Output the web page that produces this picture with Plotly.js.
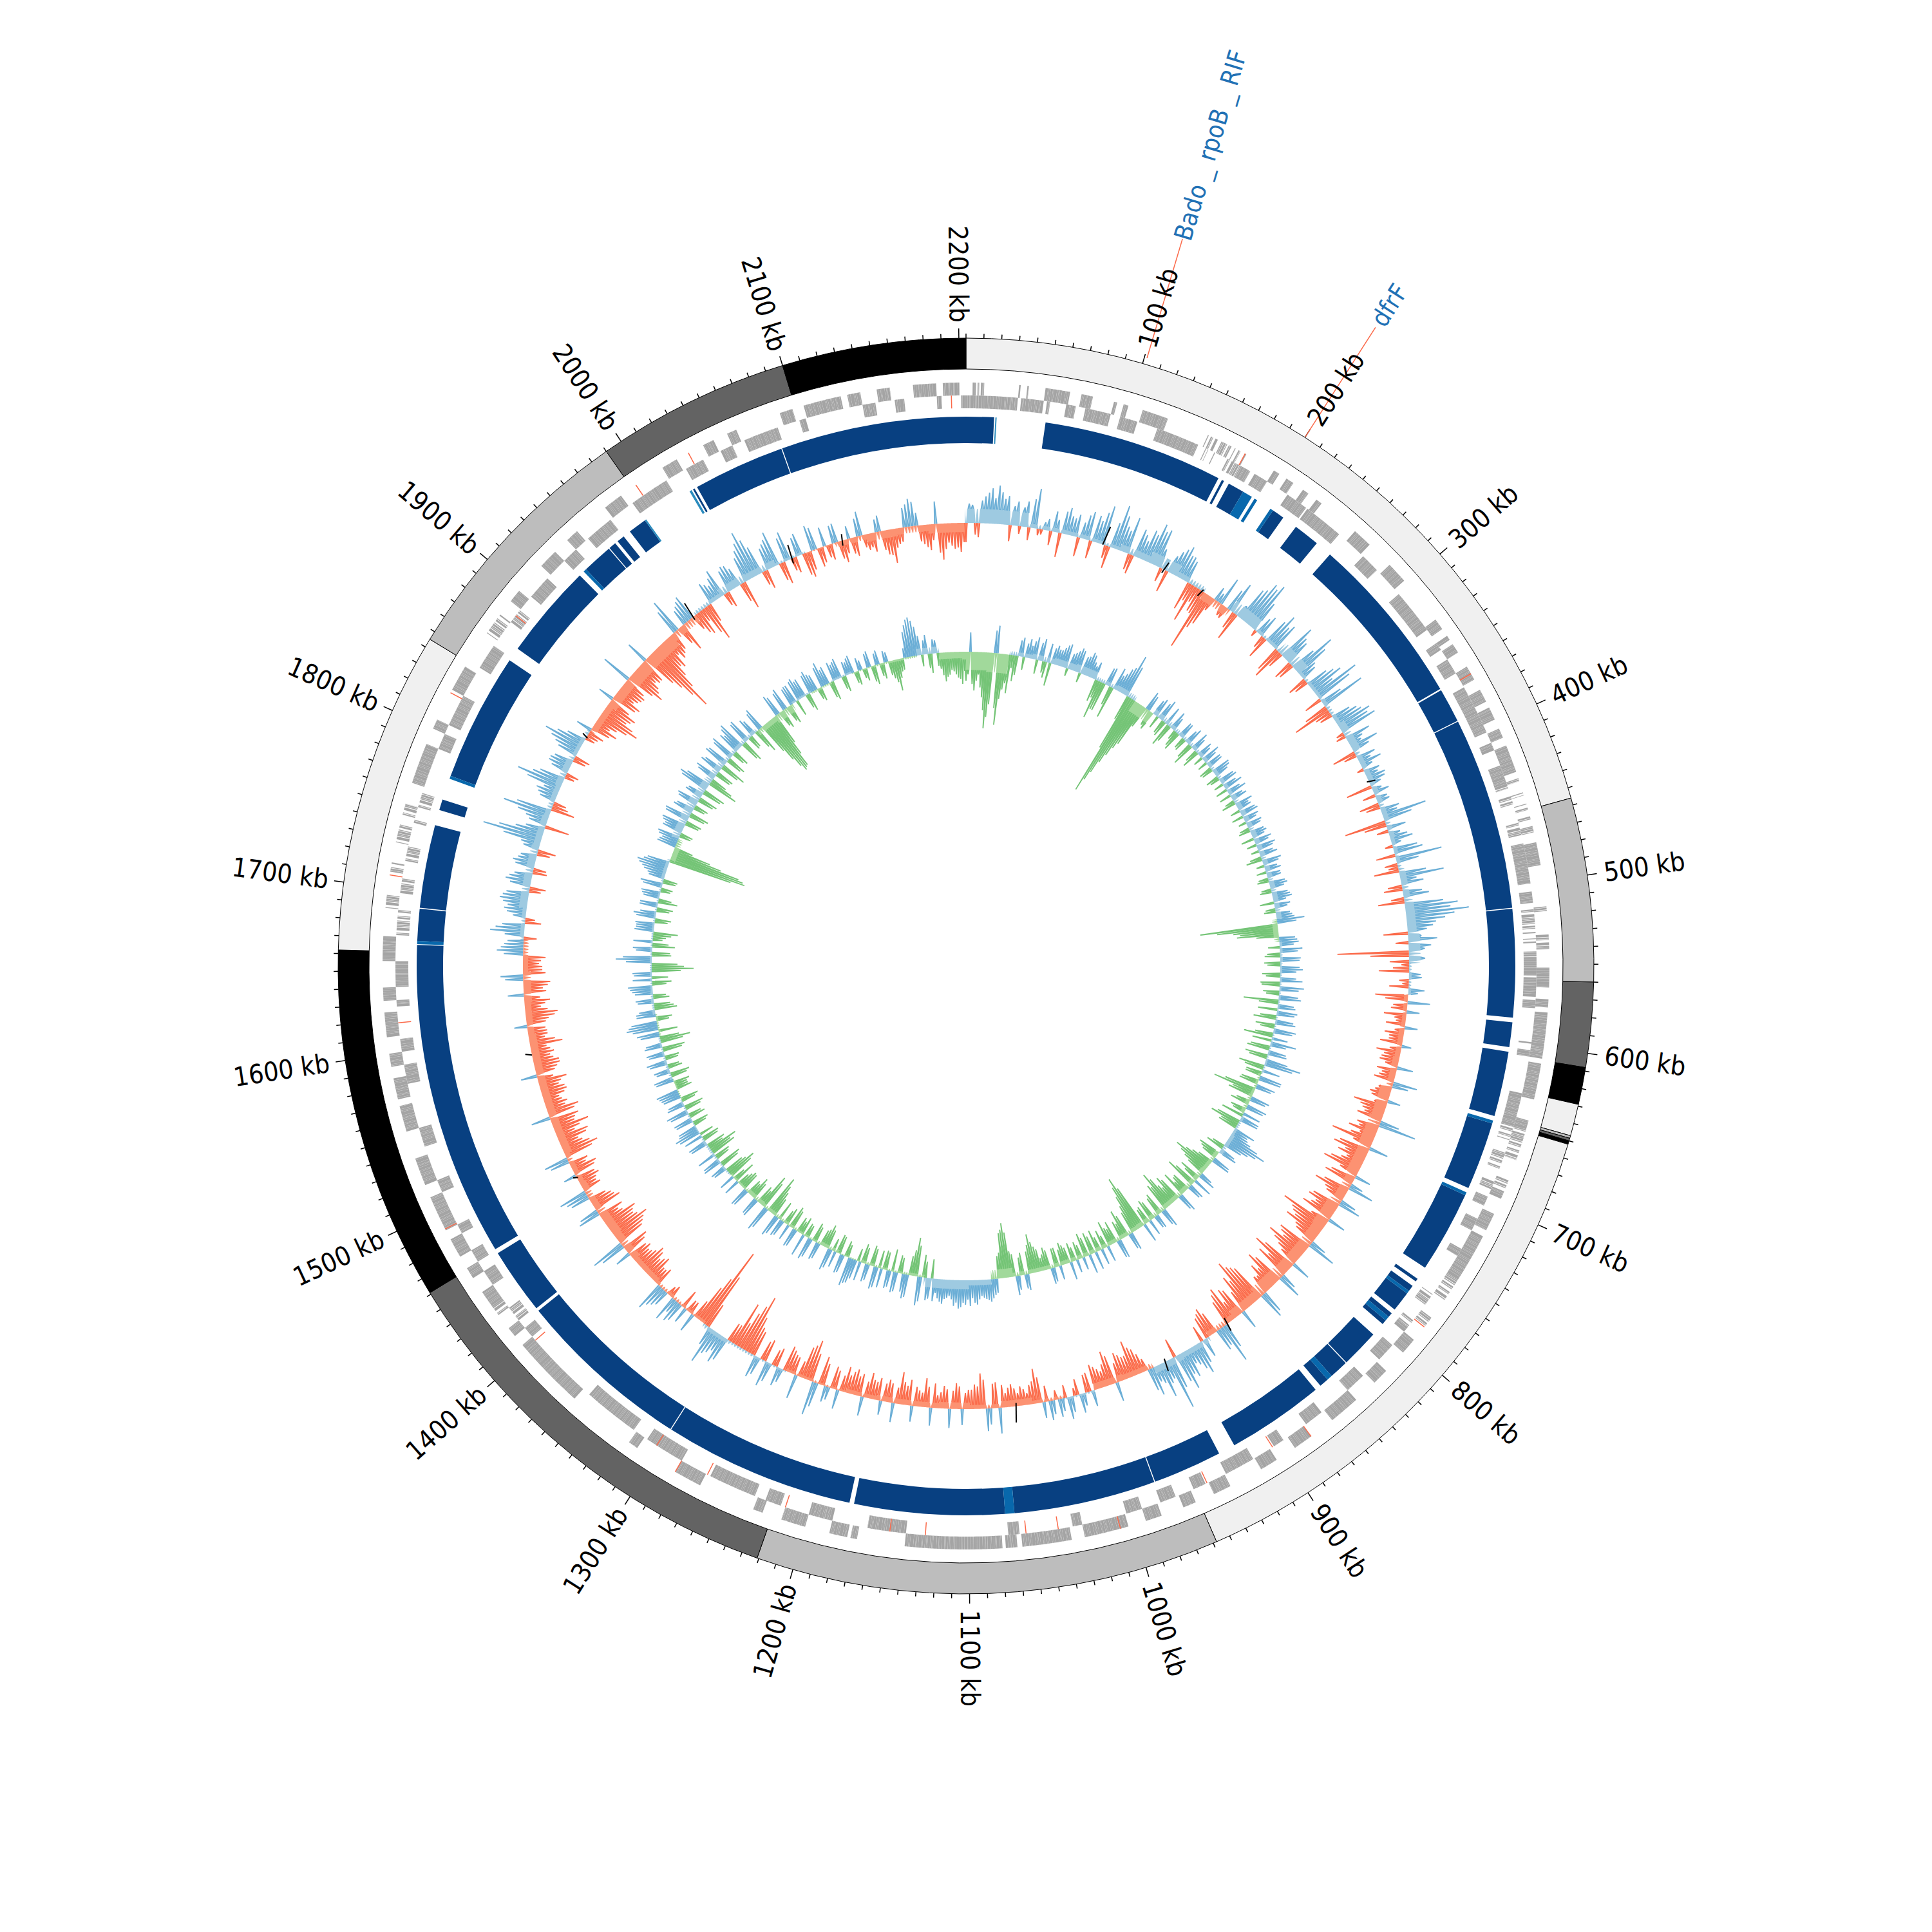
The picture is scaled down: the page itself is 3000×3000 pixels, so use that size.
<!DOCTYPE html>
<html><head><meta charset="utf-8">
<script src="https://cdn.plot.ly/plotly-3.0.1.min.js"></script>
<style>html,body{margin:0;padding:0;background:#fff}</style></head>
<body><div id="chart" style="width:3000px;height:3000px"></div>
<script>
const genomeKb = 2204;
const binKb = 2.5;
const floorBinKb = 25;
const bandStart = [0,456,560,608,629,647,648.5,650,652,958,1221,1461,1662,1845,1990,2100];
const bandEnd   = [456,560,608,629,647,648.5,650,652,958,1221,1461,1662,1845,1990,2100,2204];
const bandColor = ['#f0f0f0','#bdbdbd','#636363','#000000','#f0f0f0','#bdbdbd','#636363','#000000','#f0f0f0','#bdbdbd','#636363','#000000','#f0f0f0','#bdbdbd','#636363','#000000'];
const tickLabels = [100,200,300,400,500,600,700,800,900,1000,1100,1200,1300,1400,1500,1600,1700,1800,1900,2000,2100,2200];
const genesOuter = [[4,6],[7,8],[9,11],[32,33],[37,38],[48,63],[70,77],[90,92],[96,99],[108,124],[150,151],[152,157],[159,163],[164,166],[168,172],[175,176],[195,199],[204,209],[216,220],[226,230],[256,268],[285,298],[328,335],[340,343],[346,352],[362,371],[378,386],[390,398],[404,410],[415,432],[436,438],[445,447],[452,456],[460,462],[466,470],[476,490],[515,518],[532,541],[552,564],[571,576],[579,602],[602,607],[610,632],[645,655],[655,670],[683,695],[705,716],[720,748],[748,765],[778,785],[795,805],[820,830],[845,852],[852,864],[880,892],[905,916],[937,948],[960,968],[982,992],[1003,1030],[1038,1068],[1071,1078],[1080,1139],[1168,1172],[1174,1185],[1200,1215],[1227,1233],[1268,1285],[1312,1318],[1360,1405],[1412,1418],[1428,1445],[1455,1462],[1470,1482],[1488,1510],[1518,1535],[1552,1568],[1572,1585],[1592,1600],[1610,1625],[1632,1640],[1656,1671],[1688,1696],[1710,1716],[1728,1740],[1745,1752],[1765,1790],[1800,1806],[1826,1842],[1866,1880],[1890,1898],[1918,1930],[1940,1948],[1970,1982],[2012,2022],[2040,2047],[2056,2062],[2090,2098],[2105,2128],[2132,2140],[2150,2158],[2172,2186],[2190,2200]];
const genesInner = [[0,32],[34,48],[50,52],[62,68],[74,90],[96,107],[120,147],[152,154],[158,160],[167,183],[186,195],[210,224],[225,250],[270,282],[302,330],[340,345],[352,362],[372,403],[410,415],[425,440],[445,452],[462,470],[475,500],[505,512],[516,531],[534,537],[542,557],[558,570],[572,577],[598,599],[603,607],[630,660],[668,680],[687,692],[697,703],[712,720],[733,738],[766,775],[786,795],[806,818],[832,845],[866,878],[895,902],[917,936],[950,958],[970,980],[992,1002],[1030,1036],[1069,1076],[1139,1153],[1153,1163],[1185,1190],[1190,1200],[1218,1228],[1235,1265],[1285,1310],[1320,1355],[1405,1412],[1418,1428],[1445,1455],[1462,1470],[1482,1488],[1510,1518],[1540,1552],[1580,1592],[1600,1608],[1628,1632],[1640,1656],[1672,1688],[1698,1708],[1718,1728],[1742,1745],[1752,1762],[1790,1800],[1806,1826],[1846,1862],[1880,1890],[1900,1915],[1930,1940],[1950,1968],[1985,2010],[2024,2036],[2048,2056],[2064,2086],[2100,2104],[2140,2148],[2160,2166],[2186,2189],[2201,2204]];
// stretches where the gene strips stand apart as separate thin lines
const sparseRanges = [[150,176],[436,470],[515,545],[650,690],[750,790],[1418,1432],[1672,1762],[1866,1890]];
// strip widths in kb, repeated along each run
const stripWidths = [0.9,1.4,0.7,1.8,1.1,0.6,1.3,2.1,0.8,1.0,1.6,0.7];
const redOuter = [175,367,785,880,1008,1285,1489,1708,1824,1993,2030];
const redInner = [903,949,1045,1065,1127,1149,1215,1267,1303,1402,1618,1885,2195];
const blocksDark = [[0,18],[51,167.5],[170,171.5],[175,185.5],[208,216],[226,243],[254,365.5],[366.5,388.7],[389.3,513.7],[514.3,584],[587,603],[606,648],[653,697],[702,755],[763.5,765.5],[769,773],[775,788],[791,794],[797,800],[809,833.7],[834.3,846.5],[850,856],[860,923],[934,978.7],[979.3,1071],[1077,1174],[1177,1300.7],[1301.3,1415],[1417,1460],[1463,1666.5],[1669,1689.7],[1690.3,1744],[1754,1761],[1777,1860],[1869,1930.5],[1936,1955.7],[1956.3,1961],[1963,1968],[1973,1985],[2021.5,2022.7],[2024.5,2083.7],[2084.3,2204]];
const blocksMid = [[185.5,192],[194,196],[206,208],[651,653],[700,702],[773,775],[794,797],[846.5,850],[1071,1077],[1667,1669],[1775,1777],[1934,1936]];
const blocksLight = [[18.8,19.6],[2019,2020.5],[1985,1986]];
const skewA = [-30,28,-22,42,55,60,40,-25,38,30,-20,62,-8,18,32,-38,42,28,-30,38,
-28,35,62,-35,70,40,58,-30,38,50,65,60,-22,-35,38,52,40,-45,-60,-38,
-97,-50,22,45,-20,50,-45,55,75,80,-10,35,-35,55,45,-50,60,40,-25,72,
30,-30,35,55,76,-28,71,-60,-20,40,57,60,-15,25,45,-37,30,35,-10,20,
27,-41,25,18,-31,30,70,-65,30,18,35,-12,45,73,-20,-39,69,35,-29,40,
-41,82,98,60,40,-38,45,35,-111,25,-12,-47,20,-10,25,-51,35,-25,-35,-15,
20,-30,-22,15,-38,-28,-20,-31,-25,38,-20,-32,20,-52,-35,-40,59,-30,-25,-67,
30,-56,-45,-35,-60,25,-48,40,-55,-30,35,-50,-40,28,-78,-55,-60,-35,45,-50,
-65,-40,30,-70,-55,38,-60,-45,-30,42,-65,-81,-60,30,-50,-58,-40,62,35,-46,
-35,-25,50,30,45,60,-30,82,35,30,45,-20,-40,-57,-35,-45,30,-54,-25,-35,
25,-28,30,-12,35,20,-15,30,25,-54,-30,-25,-20,-35,-22,40,-38,35,-55,-38,
-30,25,-40,30,-35,-20,28,-45,-25,25,-30,-50,30,-35,22,-28,-40,30,-30,-35,
-40,30,-35,25,-45,53,-65,-50,38,-30,-40,30,-25,40,-30,35,-45,-93,-60,-71,
-30,45,35,58,-40,-132,-60,30,-20,-30,35,40,-15,30,45,-25,-40,-30,-45,-30,
-35,25,-42,53,-50,-64,-45,-55,-30,35,-45,-35,30,44,-25,-35,20,-40,-30,38,
-56,-35,-45,-30,-56,-38,30,-50,-35,-25,-40,-30,-45,25,-35,-40,-28,-30,-51,-25,
-30,20,-35,-50,-25,-40,25,-30,-42,35,-30,-25,-35,41,30,-20,53,35,-15,30,
30,44,35,-25,40,28,-20,35,25,-28,30,94,45,-38,35,75,-37,-20,30,25,
73,40,-20,35,30,-25,40,63,30,-18,25,-40,-35,-66,-40,-50,25,-45,-35,-40,
48,-60,-45,-40,35,-70,-115,-60,-50,-40,-30,55,-45,30,40,-35,-20,-59,35,25,
45,-25,40,30,-44,50,76,45,-30,40,55,-35,46,-25,35,-40,40,-30,30,-25,
30,-35,20,-30,38,-25,-30,25,-38,-53,-25,30,43,20,-30,-40,35,-56,-30,-40,-45];
const skewAmid = [30,-18,35,48,40,50,45,30,-12,40,45,-10,12,-22,20,35,30,35,25,45,
42,50,-20,40,55,35,-25,45,30,45,55,30,15,28,45,40,35,-28,-25,-40,
-60,-22,15,-18,35,-28,20,60,70,50,28,-20,40,38,-40,-25,45,-30,40,55,
25,-22,45,35,60,35,-38,-25,30,45,50,-12,40,20,28,-20,20,18,25,30,
18,15,-20,20,-22,25,45,-35,-18,28,15,38,-30,35,-15,42,25,-22,30,-20,
60,70,75,45,30,20,-20,25,-60,-30,-25,18,-15,-30,15,-35,-22,20,-18,-30,
-15,-22,-35,-18,-25,-30,25,-22,-32,25,-25,-28,-20,-40,-30,30,-35,-45,-38,-30,
-48,-35,-28,-50,-30,-40,20,-42,-35,25,-45,-35,-52,-30,-60,-48,-40,25,-55,-42,
-52,-30,-55,-40,25,-50,-35,-28,35,-60,-70,-50,-35,-45,-30,-50,40,30,-35,-40,
30,35,40,25,38,45,50,30,55,25,35,-30,-45,-35,-40,-30,-45,-35,-30,-40,
-30,20,-25,25,-20,28,22,-25,-40,-35,-18,-30,-28,-30,-35,-40,25,-45,-35,-30,
-25,-35,-28,-30,-25,-38,-32,-22,-30,-40,-35,-25,-30,-28,-35,-30,-25,-35,-40,-28,
-25,-30,20,-35,38,-45,-55,-25,-28,-35,22,-30,30,-35,28,-40,-60,-75,-40,-30,
38,28,40,30,-90,-80,-30,-20,25,30,22,-20,25,35,-30,-25,-35,-40,-35,-28,
-30,-35,40,-45,-55,-50,-48,-35,-40,30,-38,-28,35,-30,-28,-30,-35,-25,30,-45,
-45,-30,-50,-40,-35,-45,-42,-30,-28,-35,-38,-35,-25,-30,-40,-32,-35,-25,-40,-30,
-28,-30,-45,-35,-32,-25,-35,-38,28,-35,-30,-28,30,35,25,30,45,-25,20,35,
38,40,-18,32,35,-22,30,28,-20,25,60,70,30,28,50,55,-25,25,35,55,
50,-15,28,35,-20,32,50,45,-15,-25,-30,-25,-50,-55,-45,-35,-40,-30,-38,-35,
-45,-50,-35,-40,-55,-90,-80,-45,-30,-35,40,-30,25,35,-25,-40,-45,-30,30,35,
-20,35,38,-30,40,60,60,-22,35,45,-28,38,-20,30,-35,-30,35,-25,-20,28,
-28,-22,-25,28,-20,-22,20,-30,-40,-30,-22,35,38,-25,-35,-25,-45,-40,-35,-38,-30];
const floorA = [22,22,6,6,5,10,18,8,-12,18,5,18,5,6,12,8,8,8,6,10,14,18,4,-6,-8,-10,-18,-20,-18,-15,-20,-18,-18,-20,-14,-8,8,10,-8,-10,3,-5,-10,-6,-10,-8,-8,-6,-3,-4,3,4,6,-4,-5,-8,-12,-14,-10,-8,-12,-12,-12,-12,-10,-12,-8,6,12,12,10,8,10,6,-10,-15,-20,-20,-12,6,12,10,4,-2,-8,-12,-10,-14,-14];
const skewB = [-45,30,-60,-35,-70,-118,-80,43,-111,-55,-60,-40,25,-20,30,28,-22,35,-25,-36,
30,25,35,-12,28,38,-15,30,35,20,-35,-60,-45,30,-50,25,40,67,-40,-165,
-130,-95,-70,30,-25,25,-20,35,-25,-37,30,-15,-30,25,-20,28,-35,22,-28,20,
30,-15,25,-18,28,-20,25,-15,30,22,-18,25,-22,20,-15,28,25,-12,22,-18,
25,-20,22,30,-12,28,-25,25,20,-15,22,-18,28,-15,25,30,-22,20,-18,25,
43,-121,-70,-65,25,30,-18,28,-24,30,-20,35,-28,25,-30,38,-25,30,-54,25,
-30,28,-35,32,-22,30,-45,-30,25,-35,30,-28,57,-40,28,-25,35,-30,25,-67,
-40,25,-30,28,-20,-35,30,-47,-30,25,35,65,40,-20,25,-35,-25,30,-35,-61,
-40,20,-35,30,-50,22,-28,-40,25,-45,-35,-62,-45,25,-30,20,-35,-28,30,-89,
-60,-35,25,-45,-30,28,-25,-40,-20,25,-35,-28,30,-38,-22,20,-30,-25,-35,22,
-30,25,-35,-20,-40,-61,-35,22,-28,30,-40,-85,-70,-35,25,35,30,25,38,28,
30,35,44,40,25,30,35,22,-30,35,-35,45,-60,-30,38,-25,30,-35,28,-30,
-28,35,-32,28,-30,-20,38,45,-25,30,-30,-20,35,-37,-25,28,-30,35,-22,-28,
-25,30,-35,-28,25,-30,35,-40,-62,41,-55,-30,28,-35,-25,30,-30,-20,-35,25,
-48,-30,25,-35,28,-25,-40,-47,-30,30,-28,-22,40,30,-25,30,-20,35,-30,25,
-28,30,35,-20,-25,30,-30,25,-18,32,-22,28,-35,25,-47,30,-30,49,40,-25,
30,-35,-25,28,-20,32,38,-30,-25,30,-65,-40,56,-30,25,-35,30,-20,-38,28,
30,-25,35,-20,28,-30,25,30,-18,35,-22,28,39,49,35,-122,-110,-60,30,25,
35,-20,30,38,-25,40,-30,28,-22,35,-30,25,-35,50,-48,-25,35,-28,30,-40,
35,-30,40,-25,30,45,-35,38,-20,25,-40,35,-70,-95,-90,-50,30,-30,35,-30,
30,-25,35,30,-28,35,25,-22,38,28,-30,25,32,-25,20,28,-22,15,-20,25,
-30,22,-25,15,-28,-49,-20,15,50,61,45,-18,30,-30,20,-25,-45,-35,-30,-40,-50];
const skewBmid = [-35,-50,-45,-55,-90,-100,35,-85,-70,-45,-20,-30,30,22,20,35,28,-18,30,25,
25,30,38,25,32,35,28,38,25,28,-28,-45,28,-30,35,30,45,50,-90,-145,
-110,-80,-35,25,-30,30,28,-22,30,-28,22,-25,25,-18,22,-25,30,-20,25,-15,
22,25,-20,30,22,-15,28,22,-18,30,20,-15,28,22,25,-18,20,25,-15,22,
20,28,-15,25,22,-18,30,-12,25,22,-15,25,22,-18,28,20,25,-15,22,28,
30,-95,-60,-35,28,22,35,-20,32,-25,30,25,-22,35,-28,30,-20,35,-30,28,
32,-25,28,-30,35,-28,25,40,-30,28,-35,35,45,-30,-25,35,-28,30,-50,-35,
30,-22,32,-25,28,30,-38,-28,35,28,50,52,30,-28,30,-30,28,-25,-45,-50,
-30,28,-25,-38,25,-30,-22,30,-38,-28,-50,-40,30,-35,22,-30,25,-25,-70,-75,
-45,28,-35,-25,30,-35,-28,25,-30,-22,28,-35,-30,20,-28,-22,28,-30,-25,-30,
22,-30,-25,-35,-48,-45,25,-35,22,-35,-70,-75,-40,22,30,32,28,30,35,40,
38,42,35,30,28,38,30,35,32,-25,38,-48,-40,35,28,-28,32,25,-28,30,
32,-28,25,-25,30,30,40,-20,28,-28,25,30,-30,-28,25,-25,30,-20,35,-20,
28,-30,25,-22,28,30,-30,-50,35,-45,-25,30,-28,-22,28,-28,-25,25,-20,-40,
-35,22,-30,30,-22,30,-35,-25,28,-25,30,35,32,-20,28,-25,30,-25,28,-22,
28,32,-25,-20,28,-25,22,-22,28,-20,25,-30,28,-35,-30,35,40,45,-20,30,
25,-30,25,-25,28,35,-22,30,28,-45,-50,40,45,-28,30,-25,-15,-28,30,28,
-20,30,25,-25,28,-20,28,-15,30,-20,25,35,45,40,-100,-118,-80,-30,28,32,
-18,32,35,-22,38,-25,32,-18,32,-25,28,-30,45,40,-38,30,-25,35,-30,38,
-25,35,-20,35,40,-30,35,-22,30,-30,30,-50,-85,-92,-70,35,-25,30,-25,28,
30,32,28,-22,30,28,-18,32,25,-25,30,28,-20,22,25,-18,20,-15,22,-25,
18,-20,18,-22,-35,-30,-18,40,58,55,30,22,-22,22,-20,-35,-38,-28,-35,-42,-30];
const floorB = [-28,-30,6,8,10,12,6,8,-18,8,6,6,6,6,8,8,8,8,8,8,-8,4,3,3,3,3,3,-4,-6,4,6,-6,-7,-7,-7,-7,-6,-6,-6,-6,-6,-6,-14,8,14,14,-4,-3,-4,-2,-5,-3,-4,-5,-6,-3,3,4,2,3,-2,4,3,-3,4,3,3,3,3,3,5,-8,12,14,12,10,6,6,-8,-12,3,-3,3,-2,-3,-3,10,-10,-12];
const blackKb = [110,162,196,400,880,938,1062,1478,1582,1843,1971,2062,2104];
const blackLow = [0,-6,-10,-3,-10,-5,-5,-2,0,-2,-5,-8,-8];
const blackHigh = [30,13,3,10,12,15,25,5,10,8,25,22,10];
const geneNames = ['Bado _ rpoB _ RIF','dfrF'];
const genePos = [101.5,200];

const TH = kb => kb/genomeKb*360;
const polar = t => Object.assign({type:'scatterpolar',cliponaxis:false,hoverinfo:'skip',showlegend:false},t);
const data = [];
function bars(starts, ends, inner, outer, color, line){
  data.push({type:'barpolar',hoverinfo:'skip',showlegend:false,
    theta:starts.map((s,i)=>TH((s+ends[i])/2)),
    width:starts.map((s,i)=>TH(ends[i]-s)),
    r:starts.map(()=>outer-inner),
    base:starts.map(()=>inner),
    marker:{color:color,line:line||{width:0}}});
}
function geneStrips(runs, inner, outer){
  const s=[],e=[];
  let w=0;
  runs.forEach(g=>{
    let k=g[0],alt=false;
    while(k<g[1]-0.1){
      const step=stripWidths[w++%stripWidths.length];
      const end=Math.min(g[1],k+step);
      const sparse=sparseRanges.some(z=>k>=z[0]&&k<z[1]);
      if(!sparse||!alt){s.push(k);e.push(sparse?k+(end-k)*0.8:end);}
      if(sparse&&step<0.8)alt=!alt; else alt=false;
      k=end;
    }
  });
  bars(s,e,inner,outer,'#a4a4a4',{color:'rgba(255,255,255,0.15)',width:0.4});
}
bars(bandStart,bandEnd,927,975,bandColor,{color:'#000',width:1});
geneStrips(genesOuter,886,906);
geneStrips(genesInner,866,886);
bars(redOuter.map(k=>k-.3),redOuter.map(k=>k+.3),886,906,'#fb6a4a');
bars(redInner.map(k=>k-.3),redInner.map(k=>k+.3),866,886,'#fb6a4a');
bars(blocksDark.map(g=>g[0]),blocksDark.map(g=>g[1]),812,853,'#084081');
bars(blocksMid.map(g=>g[0]),blocksMid.map(g=>g[1]),812,853,'#0868ac');
bars(blocksLight.map(g=>g[0]),blocksLight.map(g=>g[1]),812,853,'#2b8cbe');
(function(){
  const r=[],t=[];
  for(let k=0;k<=genomeKb;k+=10){
    const major=k%100===0&&k>0;
    r.push(975,major?990:982,null); t.push(TH(k),TH(k),null);
  }
  data.push(polar({r:r,theta:t,mode:'lines',line:{color:'#000',width:1.5}}));
})();
function track(main, mid, floors, base, halfKb, fillUp, lineUp, fillDn, lineDn){
  const vals=[];
  main.forEach((v,i)=>{vals.push(v); if(i<mid.length) vals.push(mid[i]);});
  const side=(sign,fill,lineCol)=>{
    const fr=[],ft=[],lr=[],lt=[];
    vals.forEach((v,j)=>{
      const kb=j*binKb;
      const f=floors[Math.min(floors.length-1,Math.floor(kb/floorBinKb))];
      const fs=Math.max(sign*f,0);
      const on=sign*v>fs;
      const tip=sign*v>0?Math.max(sign*v,fs):0;
      const rA=base+sign*fs, rT=base+sign*tip;
      fr.push(rA,rT,rA); ft.push(TH(kb-halfKb),TH(kb),TH(kb+halfKb));
      if(on){lr.push(rA,rT,rA,null);lt.push(TH(kb-halfKb),TH(kb),TH(kb+halfKb),TH(kb));}
    });
    const revT=ft.slice().reverse();
    data.push(polar({r:fr.concat(ft.map(()=>base)),theta:ft.concat(revT),mode:'none',fill:'toself',fillcolor:fill}));
    data.push(polar({r:lr,theta:lt,mode:'lines',connectgaps:false,line:{color:lineCol,width:1.8}}));
  };
  side(1,fillUp,lineUp);
  side(-1,fillDn,lineDn);
}
track(skewA,skewAmid,floorA,688,0.9,'#9ecae1','#6baed6','#fc9272','#fb6a4a');
track(skewB,skewBmid,floorB,488,0.9,'#9ecae1','#6baed6','#a1d99b','#74c476');
(function(){
  const r=[],t=[];
  blackKb.forEach((k,i)=>{r.push(688+blackLow[i],688+blackHigh[i],null);t.push(TH(k),TH(k)+.25,null);});
  data.push(polar({r:r,theta:t,mode:'lines',line:{color:'#000',width:2}}));
})();
(function(){
  const r=[],t=[];
  const reach=[1178,1178],from=[985,976];
  genePos.forEach((k,i)=>{r.push(from[i],reach[i],null);t.push(TH(k),TH(k),null);});
  data.push(polar({r:r,theta:t,mode:'lines',line:{color:'#fb6a4a',width:1.5}}));
})();
const anns=[];
const labelFont='"DejaVu Sans Condensed", "Liberation Sans", sans-serif';
function ann(text,theta,radius,size,color){
  const rad=theta*Math.PI/180;
  const angle=(theta>0&&theta<=180)?theta-90:theta+90;
  anns.push({text:text,xref:'paper',yref:'paper',showarrow:false,xanchor:'center',yanchor:'middle',
    x:.5+radius*Math.sin(rad)/3000,y:.5+radius*Math.cos(rad)/3000,textangle:angle,
    font:{family:labelFont,size:size,color:color}});
}
tickLabels.forEach(k=>{
  const s=k+'\u00a0kb';
  const len=k>=1000?146:125;
  ann(s,TH(k),1002+len/2,41,'#000');
});
ann(geneNames[0].replace(/ /g,'\u00a0'),TH(genePos[0]),1330,39,'#2171b5');
ann(geneNames[1],TH(genePos[1]),1219,39,'#2171b5');
Plotly.newPlot('chart',data,{
  width:3000,height:3000,margin:{l:0,r:0,t:0,b:0},paper_bgcolor:'#fff',showlegend:false,
  annotations:anns,
  polar:{domain:{x:[0,1],y:[0,1]},barmode:'overlay',bargap:0,bgcolor:'rgba(0,0,0,0)',
    radialaxis:{visible:false,range:[0,1500]},
    angularaxis:{visible:false,direction:'clockwise',rotation:90,thetaunit:'degrees'}}
},{staticPlot:true,displayModeBar:false});
</script></body></html>
